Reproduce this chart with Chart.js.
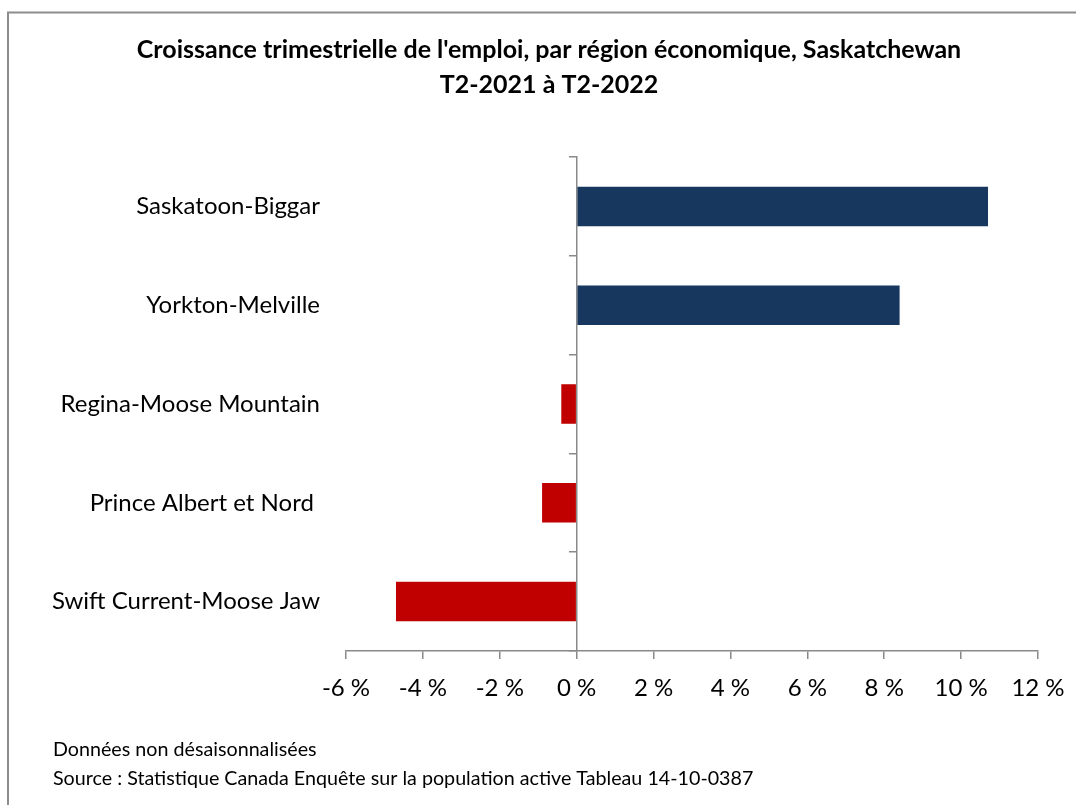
<!DOCTYPE html>
<html>
<head>
<meta charset="utf-8">
<script src="https://cdn.jsdelivr.net/npm/chart.js@4.4.1/dist/chart.umd.min.js"></script>
<style>
html,body{margin:0;padding:0;background:#fff;}
#wrap{width:1076px;height:805px;position:relative;}
canvas{display:block;}
</style>
</head>
<body>
<div id="wrap"><canvas id="c" width="1076" height="805"></canvas></div>
<script>
// ---- Data ----
const categories = ["Saskatoon-Biggar", "Yorkton-Melville", "Regina-Moose Mountain", "Prince Albert et Nord ", "Swift Current-Moose Jaw"];
const growthPct = [10.7, 8.4, -0.4, -0.9, -4.7];
const xTickValues = [-6, -4, -2, 0, 2, 4, 6, 8, 10, 12];
const titleLines = ["Croissance trimestrielle de l'emploi, par région économique, Saskatchewan", "T2-2021 à T2-2022"];
const footerLines = ["Données non désaisonnalisées", "Source : Statistique Canada Enquête sur la population active Tableau 14-10-0387"];

const POS_COLOR = "#17375E";
const NEG_COLOR = "#C00000";
const AXIS_COLOR = "#898989";
const FONT = "Lato, 'Open Sans', sans-serif";

const decorPlugin = {
  id: "decor",
  beforeDraw(chart) {
    const ctx = chart.ctx;
    ctx.save();
    ctx.fillStyle = "#fff";
    ctx.fillRect(0, 0, chart.width, chart.height);
    ctx.strokeStyle = "#8c8c8c";
    ctx.lineWidth = 2;
    ctx.beginPath();
    ctx.moveTo(8, chart.height + 5);
    ctx.lineTo(8, 12.5);
    ctx.lineTo(chart.width + 5, 12.5);
    ctx.stroke();
    ctx.restore();
  },
  afterDraw(chart) {
    const ctx = chart.ctx;
    ctx.save();
    ctx.fillStyle = "#000";
    ctx.textAlign = "center";
    ctx.textBaseline = "middle";
    ctx.font = "bold 25px " + FONT;
    ctx.fillText(titleLines[0], 549, 50);
    ctx.fillText(titleLines[1], 549, 85);
    ctx.textAlign = "left";
    ctx.font = "19.7px " + FONT;
    ctx.fillText(footerLines[0], 53, 750);
    ctx.fillText(footerLines[1], 53, 779);
    ctx.restore();
  }
};

new Chart(document.getElementById("c"), {
  type: "bar",
  data: {
    labels: categories,
    datasets: [{
      data: growthPct,
      backgroundColor: growthPct.map(v => v >= 0 ? POS_COLOR : NEG_COLOR),
      barPercentage: 0.4,
      categoryPercentage: 1.0,
      borderWidth: 0
    }]
  },
  options: {
    indexAxis: "y",
    responsive: false,
    animation: false,
    layout: { padding: { top: 157, right: 38, bottom: 0, left: 0 } },
    plugins: { legend: { display: false }, title: { display: false }, tooltip: { enabled: false } },
    scales: {
      x: {
        type: "linear",
        min: -6, max: 12,
        afterBuildTicks: s => { s.ticks = xTickValues.map(v => ({ value: v })); },
        afterFit: s => { s.height = 805 - 651; s.paddingLeft = 0; s.paddingRight = 0; },
        grid: { drawOnChartArea: false, drawTicks: true, tickLength: 8, color: AXIS_COLOR, lineWidth: 1.5 },
        border: { display: true, color: AXIS_COLOR, width: 1.5 },
        ticks: {
          padding: 15,
          color: "#000",
          font: { family: FONT, size: 24 },
          maxRotation: 0,
          autoSkip: false,
          callback: v => v + " %"
        }
      },
      y: {
        type: "category",
        afterFit: s => { s.width = 346; s.paddingTop = 0; s.paddingBottom = 0; },
        grid: { display: false, drawTicks: false },
        border: { display: false },
        ticks: { padding: 26, color: "#000", font: { family: FONT, size: 24 } }
      },
      yz: {
        type: "category",
        axis: "y",
        position: { x: 0 },
        offset: true,
        grid: { drawOnChartArea: false, drawTicks: true, tickLength: 7, offset: true, color: AXIS_COLOR, lineWidth: 1.5 },
        border: { display: true, color: AXIS_COLOR, width: 1.5 },
        ticks: { display: false }
      }
    }
  },
  plugins: [decorPlugin]
});
</script>
</body>
</html>
